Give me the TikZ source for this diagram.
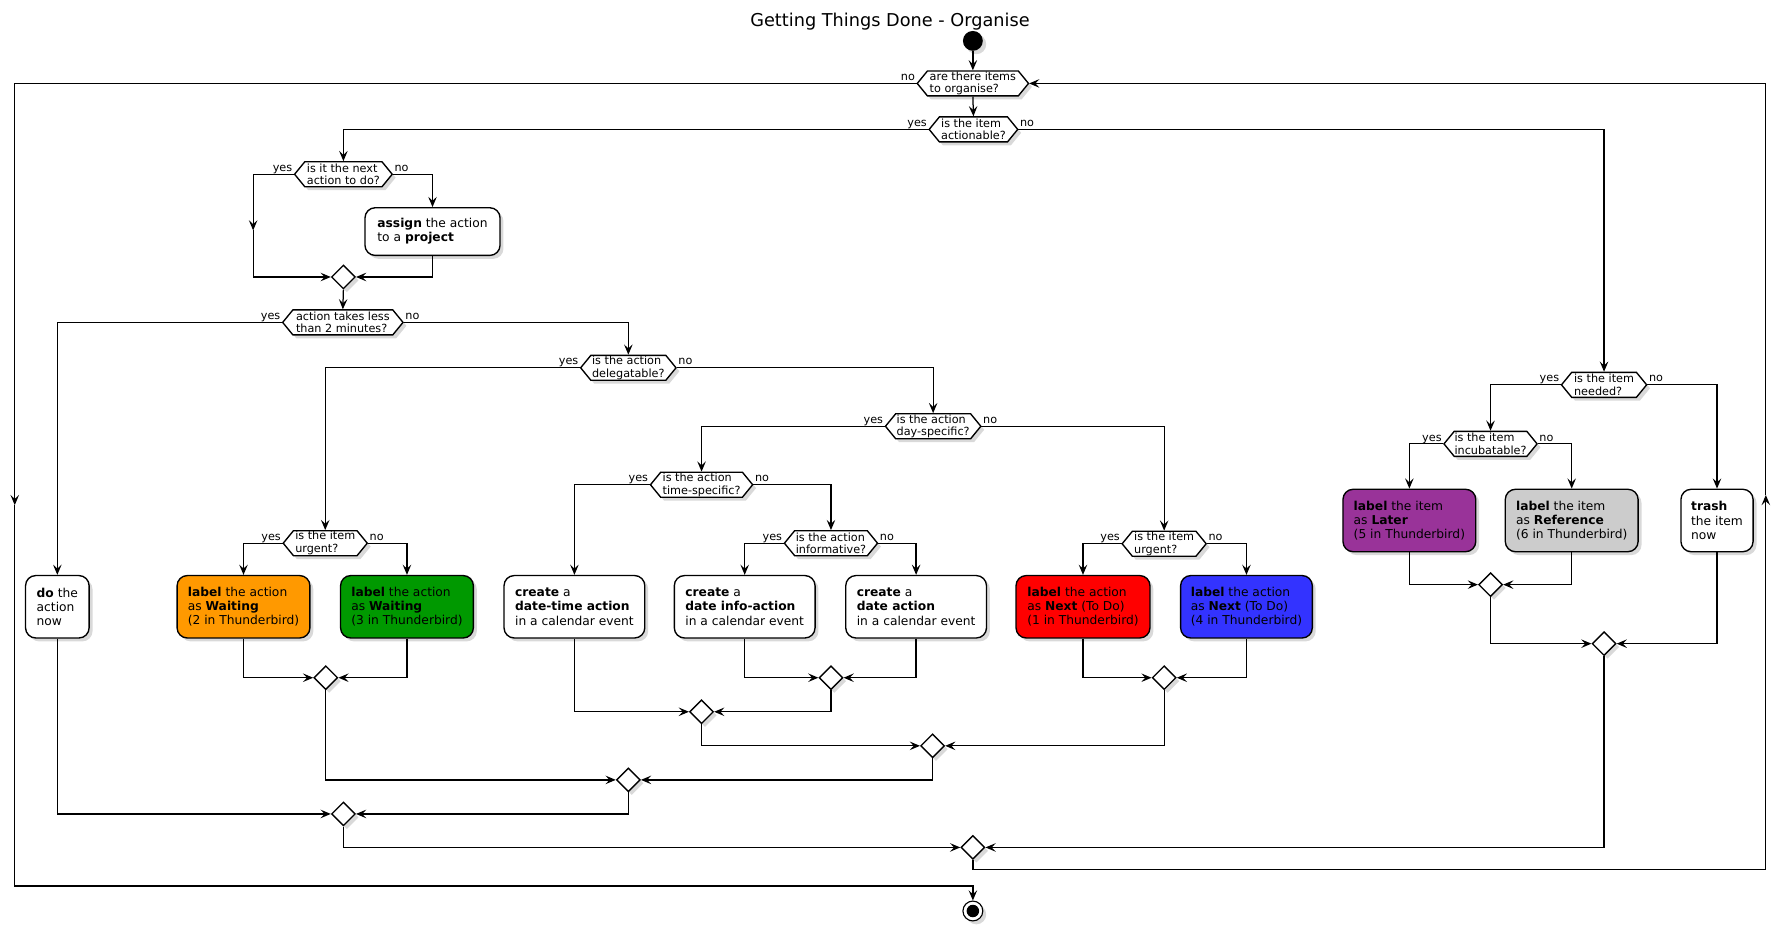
\documentclass[tikz,border=0pt]{standalone}
\usepackage{fontspec}
\setmainfont{DejaVu Sans}
\usetikzlibrary{arrows.meta,shapes.geometric,shadows}
\definecolor{cOrange}{HTML}{FF9900}
\definecolor{cGreen}{HTML}{009900}
\definecolor{cRed}{HTML}{FF0000}
\definecolor{cBlue}{HTML}{3333FF}
\definecolor{cPurple}{HTML}{993399}
\definecolor{cGray}{HTML}{CCCCCC}
\newcommand\hexq[5]{%
  \path[hexshape] (#2-#4/2,#3) -- (#2-#4/2+9,#3-11) -- (#2+#4/2-9,#3-11) -- (#2+#4/2,#3) -- (#2+#4/2-9,#3+11) -- (#2-#4/2+9,#3+11) -- cycle;
  \node[hextext, minimum width=#4pt] (#1) at (#2,#3) {#5};
}
\begin{document}
\begin{tikzpicture}[x=1pt,y=-1pt,
  line width=1.1pt,
  arr/.style={-{Stealth[length=9pt,width=7.5pt,inset=3.5pt]}},
  shad/.style={drop shadow={opacity=0.3,shadow xshift=3pt,shadow yshift=-3pt}},
  act/.style={draw, rounded corners=9pt, fill=white, shad, inner xsep=9pt, inner ysep=0pt, align=left, font=\fontsize{10.8}{12.4}\selectfont, line width=1.2pt},
  hexshape/.style={draw, fill=white, shad, line width=1.2pt},
  hextext/.style={inner sep=0pt, minimum height=22pt, align=left, font=\fontsize{9.9}{11.2}\selectfont},
  lbl/.style={inner sep=0pt, font=\fontsize{9.9}{11.2}\selectfont},
  merge/.style={diamond, draw, fill=white, shad, minimum size=21pt, inner sep=0pt, line width=1.2pt},
]
\useasboundingbox (0,0) rectangle (1568,821);

\node[font=\fontsize{15.6}{18}\selectfont, anchor=base, inner sep=0pt] (title) at (784,23.5) {Getting Things Done - Organise};
\node[circle, fill=black, minimum size=17.5pt, inner sep=0pt, shad] (start) at (857,36) {};

% decisions
\hexq{q0}{857}{73.5}{98}{are there items\\to organise?}
\hexq{q1}{857.5}{114}{78}{is the item\\actionable?}
\hexq{q2}{302.5}{153.5}{86}{is it the next\\action to do?}
\hexq{q3}{302}{284}{106}{action takes less\\than 2 minutes?}
\hexq{q4}{553.5}{324}{84}{is the action\\delegatable?}
\hexq{q5}{286.5}{478.5}{74}{is the item\\urgent?}
\hexq{q6}{822}{375.5}{84}{is the action\\day-specific?}
\hexq{q7}{618}{427}{90}{is the action\\time-specific?}
\hexq{q8}{1025.5}{479}{74}{is the item\\urgent?}
\hexq{q9}{732}{478.5}{82}{is the action\\informative?}
\hexq{q10}{1413}{339}{75}{is the item\\needed?}
\hexq{q11}{1313}{391}{82}{is the item\\incubatable?}

% branch labels
\node[lbl, anchor=base east] (q0n) at ([xshift=-1pt,yshift=2.5pt]q0.west) {no};
\foreach \q in {q1,q2,q3,q4,q5,q6,q7,q8,q9,q10,q11}{
  \node[lbl, anchor=base east] (\q y) at ([xshift=-1pt,yshift=2.5pt]\q.west) {yes};
  \node[lbl, anchor=base west] (\q n) at ([xshift=1pt,yshift=2.5pt]\q.east) {no};
}

% actions
\node[act, minimum width=119pt, minimum height=42pt] (a1) at (381,204) {\textbf{assign} the action\\to a \textbf{project}};
\node[act, minimum width=56pt, minimum height=55pt] (b0) at (50.5,534.5) {\textbf{do} the\\action\\now};
\node[act, minimum width=117pt, minimum height=55pt, fill=cOrange] (b1) at (214.5,534.5) {\textbf{label} the action\\as \textbf{Waiting}\\(2 in Thunderbird)};
\node[act, minimum width=117pt, minimum height=55pt, fill=cGreen] (b2) at (358.5,534.5) {\textbf{label} the action\\as \textbf{Waiting}\\(3 in Thunderbird)};
\node[act, minimum width=124pt, minimum height=55pt] (b3) at (506,534.5) {\textbf{create} a\\\textbf{date-time action}\\in a calendar event};
\node[act, minimum width=124pt, minimum height=55pt] (b4) at (656,534.5) {\textbf{create} a\\\textbf{date info-action}\\in a calendar event};
\node[act, minimum width=124pt, minimum height=55pt] (b5) at (807,534.5) {\textbf{create} a\\\textbf{date action}\\in a calendar event};
\node[act, minimum width=118pt, minimum height=55pt, fill=cRed] (b6) at (954,534.5) {\textbf{label} the action\\as \textbf{Next} (To Do)\\(1 in Thunderbird)};
\node[act, minimum width=116pt, minimum height=55pt, fill=cBlue] (b7) at (1098,534.5) {\textbf{label} the action\\as \textbf{Next} (To Do)\\(4 in Thunderbird)};
\node[act, minimum width=117pt, minimum height=55pt, fill=cPurple] (b8) at (1241.5,458.5) {\textbf{label} the item\\as \textbf{Later}\\(5 in Thunderbird)};
\node[act, minimum width=117pt, minimum height=55pt, fill=cGray] (b9) at (1384.5,458.5) {\textbf{label} the item\\as \textbf{Reference}\\(6 in Thunderbird)};
\node[act, minimum width=63pt, minimum height=55pt] (b10) at (1512.5,458.5) {\textbf{trash}\\the item\\now};

% merges
\node[merge] (m1) at (302.5,244) {};
\node[merge] (m2) at (287,597) {};
\node[merge] (m3) at (732,597) {};
\node[merge] (m4) at (618,627) {};
\node[merge] (m5) at (1025.5,597) {};
\node[merge] (m6) at (821.5,657) {};
\node[merge] (m7) at (553.5,687) {};
\node[merge] (m8) at (302.5,717) {};
\node[merge] (m9) at (857,746.5) {};
\node[merge] (m10) at (1313,515) {};
\node[merge] (m11) at (1413,567) {};

% end
\node[circle, draw, fill=white, minimum size=17.5pt, inner sep=0pt, line width=1pt, shad] (endc) at (857,802.5) {};
\fill (endc.center) circle (5.5);

% helper coordinates
\coordinate (lmid) at (13,445);
\coordinate (lbot) at (857,780.5);
\coordinate (rcorner) at (857,766);
\coordinate (rmid) at (1555.5,436);
\coordinate (ymid) at (223,203);

% connectors
\draw[arr] (start) -- (q0.north);
\draw[arr] (q0.south) -- (q1.north);
\draw[arr] (q0.west) -| (lmid);
\draw[arr] (lmid) |- (lbot) -- (endc.north);
\draw[arr] (m9.south) -- (rcorner) -| (rmid);
\draw[arr] (rmid) |- (q0.east);

\draw[arr] (q1.west) -| (q2.north);
\draw[arr] (q1.east) -| (q10.north);

\draw[arr] (q2.west) -| (ymid);
\draw[arr] (ymid) |- (m1.west);
\draw[arr] (q2.east) -| (a1.north);
\draw[arr] (a1.south) |- (m1.east);
\draw[arr] (m1.south) -- (q3.north);

\draw[arr] (q3.west) -| (b0.north);
\draw[arr] (q3.east) -| (q4.north);
\draw[arr] (q4.west) -| (q5.north);
\draw[arr] (q4.east) -| (q6.north);
\draw[arr] (q5.west) -| (b1.north);
\draw[arr] (q5.east) -| (b2.north);
\draw[arr] (q6.west) -| (q7.north);
\draw[arr] (q6.east) -| (q8.north);
\draw[arr] (q7.west) -| (b3.north);
\draw[arr] (q7.east) -| (q9.north);
\draw[arr] (q9.west) -| (b4.north);
\draw[arr] (q9.east) -| (b5.north);
\draw[arr] (q8.west) -| (b6.north);
\draw[arr] (q8.east) -| (b7.north);
\draw[arr] (q10.west) -| (q11.north);
\draw[arr] (q10.east) -| (b10.north);
\draw[arr] (q11.west) -| (b8.north);
\draw[arr] (q11.east) -| (b9.north);

\draw[arr] (b1.south) |- (m2.west);
\draw[arr] (b2.south) |- (m2.east);
\draw[arr] (b4.south) |- (m3.west);
\draw[arr] (b5.south) |- (m3.east);
\draw[arr] (b3.south) |- (m4.west);
\draw[arr] (m3.south) |- (m4.east);
\draw[arr] (b6.south) |- (m5.west);
\draw[arr] (b7.south) |- (m5.east);
\draw[arr] (m4.south) |- (m6.west);
\draw[arr] (m5.south) |- (m6.east);
\draw[arr] (m2.south) |- (m7.west);
\draw[arr] (m6.south) |- (m7.east);
\draw[arr] (b0.south) |- (m8.west);
\draw[arr] (m7.south) |- (m8.east);
\draw[arr] (b8.south) |- (m10.west);
\draw[arr] (b9.south) |- (m10.east);
\draw[arr] (m10.south) |- (m11.west);
\draw[arr] (b10.south) |- (m11.east);
\draw[arr] (m8.south) |- (m9.west);
\draw[arr] (m11.south) |- (m9.east);
\end{tikzpicture}
\end{document}
